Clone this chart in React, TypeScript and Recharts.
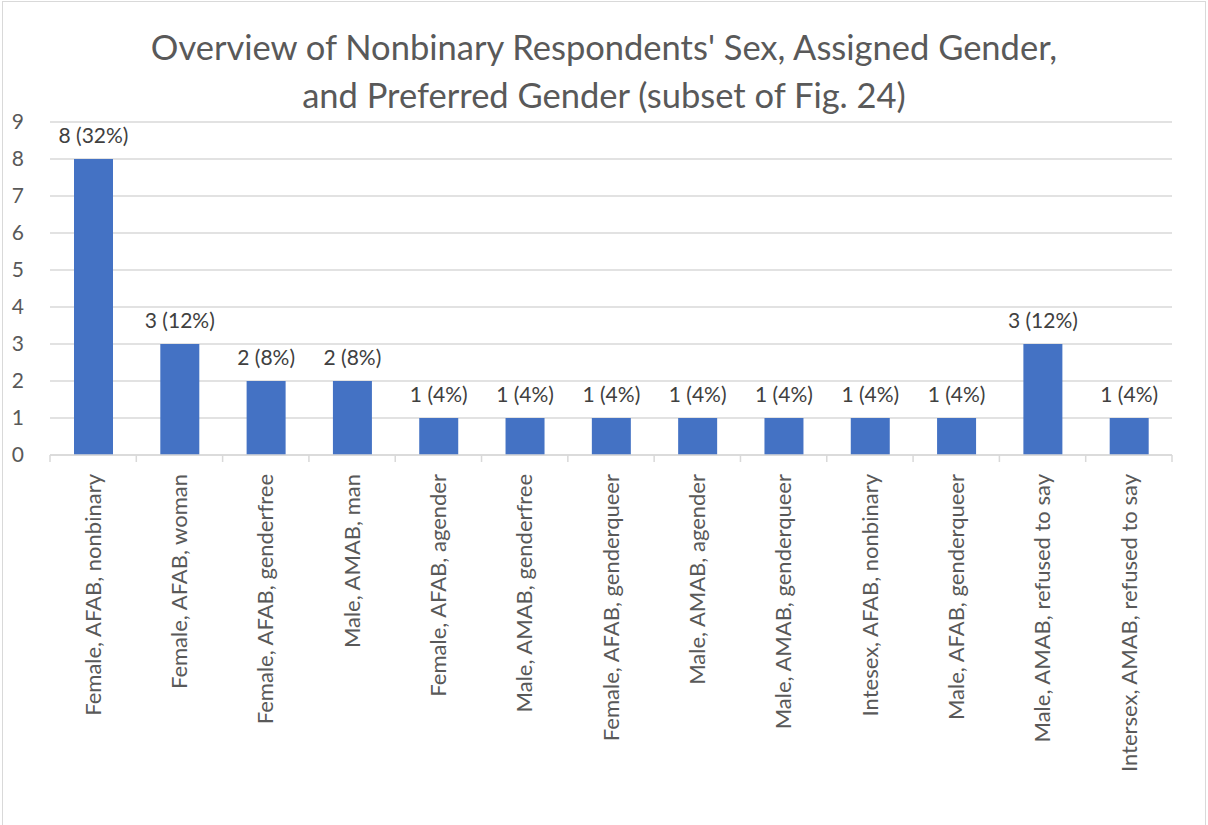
import React from 'react';
import { BarChart, Bar, XAxis, YAxis, CartesianGrid, LabelList } from 'recharts';

const categories = [
  'Female, AFAB, nonbinary',
  'Female, AFAB, woman',
  'Female, AFAB, genderfree',
  'Male, AMAB, man',
  'Female, AFAB, agender',
  'Male, AMAB, genderfree',
  'Female, AFAB, genderqueer',
  'Male, AMAB, agender',
  'Male, AMAB, genderqueer',
  'Intesex, AFAB, nonbinary',
  'Male, AFAB, genderqueer',
  'Male, AMAB, refused to say',
  'Intersex, AMAB, refused to say',
];
const counts = [8, 3, 2, 2, 1, 1, 1, 1, 1, 1, 1, 3, 1];
const percents = [32, 12, 8, 8, 4, 4, 4, 4, 4, 4, 4, 12, 4];
const yTicks = [0, 1, 2, 3, 4, 5, 6, 7, 8, 9];
const titleLines = [
  "Overview of Nonbinary Respondents' Sex, Assigned Gender,",
  'and Preferred Gender (subset of Fig. 24)',
];

const data = categories.map((name, i) => ({
  name,
  count: counts[i],
  label: `${counts[i]} (${percents[i]}%)`,
}));

const FONT = 'Lato, "Open Sans", sans-serif';
const GRID = '#d9d9d9';
const TEXT = '#595959';
const PLOT_W = 1122;

// rotated category label, plus the small tick marks at the band edges
function CategoryTick({ x, y, payload, index }: any) {
  const half = payload && payload.offset > 0 ? payload.offset : PLOT_W / categories.length / 2;
  const last = index === categories.length - 1;
  return (
    <g>
      <line x1={x - half} x2={x - half} y1={y} y2={y + 7} stroke={GRID} strokeWidth={1.5} />
      {last && (
        <line x1={x + half} x2={x + half} y1={y} y2={y + 7} stroke={GRID} strokeWidth={1.5} />
      )}
      <text
        transform={`translate(${x},${y + 19}) rotate(-90)`}
        textAnchor="end"
        dy="0.35em"
        fill={TEXT}
        fontSize={22}
        fontFamily={FONT}
      >
        {payload.value}
      </text>
    </g>
  );
}

function ValueLabel({ x, y, width, value }: any) {
  return (
    <text
      x={x + width / 2}
      y={y - 16}
      textAnchor="middle"
      fill="#404040"
      fontSize={21}
      fontFamily={FONT}
    >
      {value}
    </text>
  );
}

export default function App() {
  return (
    <div
      style={{
        position: 'absolute',
        left: 2,
        top: 1,
        width: 1202,
        height: 830,
        border: `1px solid ${GRID}`,
        background: '#fff',
        fontFamily: FONT,
      }}
    >
      <div
        style={{
          position: 'absolute',
          left: 0,
          right: 0,
          top: 21,
          textAlign: 'center',
          color: TEXT,
          fontSize: 34.5,
          lineHeight: '48px',
        }}
      >
        {titleLines.map((t) => (
          <div key={t}>{t}</div>
        ))}
      </div>
      <BarChart
        width={1202}
        height={830}
        data={data}
        margin={{ top: 120, right: 33, bottom: 0, left: 0 }}
      >
        <CartesianGrid vertical={false} stroke={GRID} strokeWidth={1.5} />
        <XAxis
          dataKey="name"
          interval={0}
          height={377}
          axisLine={{ stroke: GRID, strokeWidth: 1.5 }}
          tickLine={false}
          tickSize={0}
          tickMargin={0}
          tick={<CategoryTick />}
        />
        <YAxis
          domain={[0, 9]}
          ticks={yTicks}
          width={47}
          axisLine={false}
          tickLine={false}
          tickMargin={20}
          tick={{ fill: TEXT, fontSize: 21, fontFamily: FONT }}
        />
        <Bar dataKey="count" fill="#4472c4" barSize={39} isAnimationActive={false}>
          <LabelList dataKey="label" content={<ValueLabel />} />
        </Bar>
      </BarChart>
    </div>
  );
}
